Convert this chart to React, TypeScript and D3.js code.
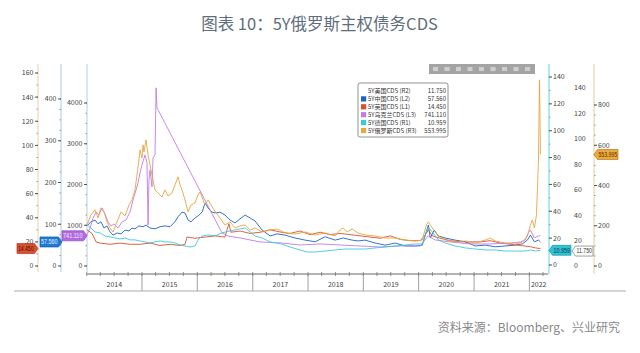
import React from 'react';
import * as d3 from 'd3';

type Pt = [string, number];

// 5Y CDS (bp)
const usData: Pt[] = [
  ['2014-01-03', 25], ['2014-06-10', 18], ['2015-01-10', 20], ['2015-09-10', 22], ['2016-03-10', 28],
  ['2016-09-10', 25], ['2017-06-10', 20], ['2018-03-10', 17], ['2019-01-10', 22], ['2019-09-10', 15],
  ['2020-03-10', 30], ['2020-06-10', 20], ['2021-01-10', 14], ['2021-09-10', 12], ['2022-03-15', 11.75],
];

const chinaData: Pt[] = [
  ['2014-01-03', 96], ['2014-01-29', 106], ['2014-02-25', 110], ['2014-03-17', 101], ['2014-04-05', 106],
  ['2014-04-25', 91], ['2014-05-15', 96], ['2014-06-04', 82], ['2014-06-24', 74], ['2014-07-20', 79],
  ['2014-08-16', 77], ['2014-09-11', 86], ['2014-10-07', 84], ['2014-10-27', 91], ['2014-11-16', 89],
  ['2014-12-12', 96], ['2015-01-08', 94], ['2015-01-28', 98], ['2015-02-23', 91], ['2015-03-28', 89],
  ['2015-04-30', 94], ['2015-06-02', 96], ['2015-07-05', 94], ['2015-08-07', 106], ['2015-08-27', 118],
  ['2015-09-22', 129], ['2015-10-12', 127], ['2015-11-01', 110], ['2015-11-21', 106], ['2015-12-17', 115],
  ['2016-01-06', 120], ['2016-02-02', 129], ['2016-02-21', 151], ['2016-03-12', 139], ['2016-04-08', 129],
  ['2016-05-04', 127], ['2016-05-30', 129], ['2016-07-02', 122], ['2016-08-04', 110], ['2016-09-06', 103],
  ['2016-10-09', 113], ['2016-11-12', 122], ['2016-12-15', 115], ['2017-01-16', 108], ['2017-03-04', 86],
  ['2017-04-26', 72], ['2017-06-11', 77], ['2017-08-03', 74], ['2017-10-08', 67], ['2017-12-13', 62],
  ['2018-02-17', 58], ['2018-04-24', 70], ['2018-06-29', 62], ['2018-08-21', 67], ['2018-10-19', 62],
  ['2018-11-28', 60], ['2019-01-13', 62], ['2019-03-20', 55], ['2019-05-25', 50], ['2019-07-30', 55],
  ['2019-10-05', 48], ['2019-12-10', 48], ['2020-01-25', 50], ['2020-02-21', 82], ['2020-03-05', 98],
  ['2020-03-18', 67], ['2020-04-13', 86], ['2020-05-10', 72], ['2020-06-25', 67], ['2020-08-30', 62],
  ['2020-11-04', 58], ['2021-01-09', 48], ['2021-03-16', 50], ['2021-05-21', 46], ['2021-07-26', 48],
  ['2021-09-30', 50], ['2021-11-16', 53], ['2021-12-19', 62], ['2022-01-08', 74], ['2022-02-03', 58],
  ['2022-03-02', 62], ['2022-03-15', 57.56],
];

const ukData: Pt[] = [
  ['2014-01-03', 30], ['2014-02-05', 27], ['2014-03-04', 20], ['2014-03-30', 19], ['2014-06-04', 18],
  ['2014-08-09', 19], ['2014-10-14', 18], ['2014-12-19', 18], ['2015-02-23', 19], ['2015-04-30', 17],
  ['2015-07-05', 18], ['2015-09-09', 17], ['2015-10-12', 18], ['2015-10-25', 24], ['2015-12-17', 23],
  ['2016-02-21', 24], ['2016-04-27', 25], ['2016-07-02', 24], ['2016-07-15', 30], ['2016-07-28', 35],
  ['2016-08-10', 28], ['2016-10-09', 29], ['2016-12-15', 27], ['2017-02-19', 28], ['2017-04-26', 30],
  ['2017-07-08', 28], ['2017-09-04', 27], ['2017-11-09', 29], ['2018-01-15', 26], ['2018-03-22', 28],
  ['2018-05-27', 26], ['2018-08-01', 27], ['2018-10-06', 26], ['2018-12-11', 25], ['2019-02-15', 24],
  ['2019-04-22', 23], ['2019-06-27', 25], ['2019-09-02', 22], ['2019-11-07', 21], ['2020-01-13', 21],
  ['2020-02-21', 27], ['2020-03-05', 30], ['2020-03-31', 25], ['2020-05-23', 23], ['2020-07-29', 21],
  ['2020-10-04', 20], ['2020-12-09', 20], ['2021-02-14', 20], ['2021-04-18', 21], ['2021-06-24', 19],
  ['2021-08-29', 18], ['2021-11-04', 17], ['2022-01-08', 16], ['2022-02-10', 15], ['2022-03-15', 14.45],
];

const ukraineData: Pt[] = [
  ['2014-01-03', 762], ['2014-01-23', 934], ['2014-02-12', 1179], ['2014-03-04', 1327], ['2014-03-23', 1253],
  ['2014-04-12', 1425], ['2014-05-02', 1278], ['2014-05-22', 1081], ['2014-06-10', 983], ['2014-06-30', 1032],
  ['2014-07-27', 934], ['2014-08-22', 1081], ['2014-09-18', 1130], ['2014-10-14', 1327], ['2014-11-03', 1622],
  ['2014-11-23', 1867], ['2014-12-06', 2039], ['2014-12-19', 2285], ['2015-01-01', 2482], ['2015-01-21', 2727],
  ['2015-02-03', 2531], ['2015-02-10', 1007], ['2015-02-16', 2113], ['2015-02-23', 2359], ['2015-03-08', 1941],
  ['2015-03-15', 2654], ['2015-03-28', 2727], ['2015-04-04', 4373], ['2015-04-10', 3882], ['2016-06-12', 811],
  ['2016-07-22', 737], ['2016-10-09', 688], ['2016-12-15', 639], ['2017-02-19', 590], ['2017-07-08', 565],
  ['2017-11-09', 516], ['2018-03-22', 541], ['2018-08-01', 516], ['2018-12-11', 491], ['2019-04-22', 467],
  ['2019-09-02', 491], ['2020-01-13', 491], ['2020-02-21', 688], ['2020-03-05', 737], ['2020-04-19', 639],
  ['2020-07-29', 590], ['2020-12-09', 541], ['2021-04-18', 541], ['2021-08-29', 565], ['2021-11-04', 590],
  ['2021-12-05', 639], ['2021-12-25', 811], ['2022-01-08', 885], ['2022-02-03', 688], ['2022-03-02', 737],
  ['2022-03-15', 741.11],
];

const germanyData: Pt[] = [
  ['2014-01-03', 29.9], ['2014-01-29', 27.6], ['2014-02-25', 24.6], ['2014-03-30', 23.9], ['2014-05-02', 21.6],
  ['2014-06-04', 20.9], ['2014-07-07', 20.1], ['2014-08-09', 19.4], ['2014-09-11', 20.1], ['2014-10-14', 18.7],
  ['2014-11-16', 18.7], ['2014-12-19', 17.9], ['2015-01-21', 17.2], ['2015-02-23', 16.4], ['2015-03-28', 17.2],
  ['2015-04-30', 17.9], ['2015-06-02', 17.2], ['2015-07-05', 17.2], ['2015-08-07', 16.4], ['2015-09-09', 14.9],
  ['2015-10-12', 14.2], ['2015-11-14', 13.4], ['2015-12-17', 14.2], ['2016-01-06', 18.7], ['2016-02-02', 21.6],
  ['2016-03-12', 22.4], ['2016-04-27', 21.6], ['2016-06-12', 23.9], ['2016-08-04', 25.4], ['2016-10-09', 26.9],
  ['2016-11-12', 27.6], ['2016-12-15', 24.6], ['2017-01-16', 21.6], ['2017-03-04', 20.1], ['2017-04-26', 17.2],
  ['2017-07-08', 15.7], ['2017-09-04', 13.4], ['2017-11-09', 11.2], ['2017-12-26', 9.7], ['2018-02-17', 9.7],
  ['2018-04-24', 10.4], ['2018-06-29', 11.2], ['2018-09-03', 11.9], ['2018-11-08', 11.9], ['2019-01-13', 11.9],
  ['2019-03-20', 12.7], ['2019-05-25', 13.4], ['2019-07-30', 14.2], ['2019-10-05', 14.9], ['2019-12-10', 15.7],
  ['2020-01-25', 15.7], ['2020-02-21', 24.6], ['2020-03-05', 28.4], ['2020-03-31', 24.6], ['2020-05-10', 18.7],
  ['2020-06-25', 16.4], ['2020-08-30', 14.2], ['2020-11-04', 12.7], ['2021-01-09', 11.9], ['2021-03-16', 11.2],
  ['2021-05-21', 11.2], ['2021-07-26', 10.4], ['2021-09-30', 10.4], ['2021-12-05', 10.4], ['2022-01-08', 11.2],
  ['2022-02-10', 10.4], ['2022-03-15', 10.959],
];

const russiaData: Pt[] = [
  ['2014-01-03', 204], ['2014-01-29', 254], ['2014-02-25', 279], ['2014-03-17', 239], ['2014-04-05', 289],
  ['2014-04-25', 269], ['2014-05-15', 219], ['2014-06-04', 189], ['2014-06-24', 169], ['2014-07-20', 219],
  ['2014-08-16', 269], ['2014-09-11', 249], ['2014-10-07', 303], ['2014-10-27', 328], ['2014-11-16', 378],
  ['2014-11-29', 453], ['2014-12-12', 527], ['2014-12-19', 577], ['2015-01-01', 537], ['2015-01-08', 602],
  ['2015-01-14', 567], ['2015-01-28', 627], ['2015-02-10', 552], ['2015-02-23', 502], ['2015-03-08', 453],
  ['2015-03-28', 378], ['2015-04-17', 363], ['2015-05-13', 343], ['2015-06-02', 378], ['2015-06-22', 348],
  ['2015-07-18', 363], ['2015-08-07', 403], ['2015-08-27', 443], ['2015-09-09', 403], ['2015-09-22', 378],
  ['2015-10-12', 328], ['2015-11-01', 269], ['2015-11-21', 303], ['2015-12-17', 313], ['2016-01-06', 353],
  ['2016-01-19', 368], ['2016-02-08', 328], ['2016-02-21', 303], ['2016-03-12', 328], ['2016-04-08', 294],
  ['2016-05-04', 264], ['2016-05-30', 239], ['2016-07-02', 204], ['2016-08-04', 219], ['2016-09-06', 189],
  ['2016-10-09', 199], ['2016-11-12', 204], ['2016-12-15', 179], ['2017-01-16', 189], ['2017-03-04', 169],
  ['2017-04-26', 179], ['2017-06-11', 184], ['2017-08-03', 164], ['2017-10-08', 159], ['2017-12-13', 169],
  ['2018-02-17', 154], ['2018-04-24', 164], ['2018-06-29', 149], ['2018-08-01', 179], ['2018-08-21', 189],
  ['2018-09-16', 169], ['2018-10-19', 184], ['2018-11-28', 164], ['2019-01-13', 154], ['2019-03-20', 149],
  ['2019-05-25', 139], ['2019-07-30', 139], ['2019-10-05', 129], ['2019-12-10', 124], ['2020-01-25', 129],
  ['2020-02-21', 204], ['2020-03-05', 219], ['2020-03-31', 189], ['2020-05-10', 149], ['2020-06-25', 129],
  ['2020-08-30', 119], ['2020-11-04', 124], ['2021-01-09', 114], ['2021-03-16', 129], ['2021-04-18', 139],
  ['2021-05-21', 124], ['2021-07-26', 114], ['2021-09-30', 109], ['2021-11-16', 119], ['2021-12-19', 149],
  ['2022-01-08', 204], ['2022-01-21', 229], ['2022-02-03', 189], ['2022-02-17', 254], ['2022-03-02', 527],
  ['2022-03-09', 925], ['2022-03-15', 553.995],
];

const years = ['2014', '2015', '2016', '2017', '2018', '2019', '2020', '2021', '2022'];

const parse = d3.timeParse('%Y-%m-%d');
const font = '"Noto Sans CJK SC", "Noto Sans", sans-serif';
const tagFont = '"Liberation Sans Narrow", "Liberation Sans", sans-serif';

const x = d3.scaleTime()
  .domain([parse('2014-01-01') as Date, parse('2022-05-04') as Date])
  .range([86.7, 548]);

const yL1 = d3.scaleLinear().domain([0, 160]).range([266, 73]);
const yL2 = d3.scaleLinear().domain([0, 400]).range([266, 99]);
const yL3 = d3.scaleLinear().domain([0, 4000]).range([266, 103]);
const yR1 = d3.scaleLinear().domain([0, 140]).range([265, 77]);
const yR2 = d3.scaleLinear().domain([0, 140]).range([266, 88]);
const yR3 = d3.scaleLinear().domain([0, 800]).range([266, 105]);

const series = [
  { name: '5Y美国CDS (R2)', data: usData, y: yR2, color: '#ffffff', last: '11.750' },
  { name: '5Y中国CDS (L2)', data: chinaData, y: yL2, color: '#1d63c6', last: '57.560' },
  { name: '5Y英国CDS (L1)', data: ukData, y: yL1, color: '#d9512c', last: '14.450' },
  { name: '5Y乌克兰CDS (L3)', data: ukraineData, y: yL3, color: '#c07ee6', last: '741.110' },
  { name: '5Y德国CDS (R1)', data: germanyData, y: yR1, color: '#3cc9da', last: '10.959' },
  { name: '5Y俄罗斯CDS (R3)', data: russiaData, y: yR3, color: '#e9a53e', last: '553.995' },
];

// left-side axis: labels left of the line, ticks pointing left
const LeftAxis = ({ scale, ax, step, minor, color }: any) => {
  const [d0, d1] = scale.domain();
  const major = d3.range(d0, d1 + 1e-9, step);
  const minors = d3.range(d0, d1 + 1e-9, minor);
  return (
    <g>
      <line x1={ax} x2={ax} y1={64} y2={272} stroke={color} strokeWidth={1} />
      {minors.map((v: number) => (
        <line key={'m' + v} x1={ax - 1.5} x2={ax} y1={scale(v)} y2={scale(v)} stroke="#999" />
      ))}
      {major.map((v: number) => (
        <g key={v}>
          <line x1={ax - 3} x2={ax} y1={scale(v)} y2={scale(v)} stroke="#555" />
          <text x={ax - 4.5} y={scale(v)} dy="0.35em" textAnchor="end" fontSize={7} fill="#444" fontFamily={font}>{v}</text>
        </g>
      ))}
    </g>
  );
};

const RightAxis = ({ scale, ax, step, minor, color, noLine }: any) => {
  const [d0, d1] = scale.domain();
  const major = d3.range(d0, d1 + 1e-9, step);
  const minors = d3.range(d0, d1 + 1e-9, minor);
  return (
    <g>
      {!noLine && <line x1={ax} x2={ax} y1={64} y2={274} stroke={color} strokeWidth={1} />}
      {!noLine && minors.map((v: number) => (
        <line key={'m' + v} x1={ax} x2={ax + 1.5} y1={scale(v)} y2={scale(v)} stroke="#999" />
      ))}
      {major.map((v: number) => (
        <g key={v}>
          {!noLine && <line x1={ax} x2={ax + 3} y1={scale(v)} y2={scale(v)} stroke="#555" />}
          <text x={noLine ? ax : ax + 4} y={scale(v)} dy="0.35em" fontSize={7} fill="#444" fontFamily={font}>{v}</text>
        </g>
      ))}
    </g>
  );
};

// value tag with a point toward its axis
const Badge = ({ x0, x1, y, text, fill, stroke, ink, right }: any) => {
  const h = 5;
  const pts = right
    ? [[x0, y], [x0 + 3.5, y - h], [x1, y - h], [x1, y + h], [x0 + 3.5, y + h]]
    : [[x0, y - h], [x1 - 3.5, y - h], [x1, y], [x1 - 3.5, y + h], [x0, y + h]];
  const cx = right ? (x0 + 3.5 + x1) / 2 : (x0 + x1 - 3.5) / 2;
  const w = x1 - x0 - 5.5;
  return (
    <g>
      <polygon points={pts.map(p => p.join(',')).join(' ')} fill={fill} stroke={stroke} strokeWidth={0.7} />
      <text x={cx} y={y} dy="0.35em" textAnchor="middle" fontSize={6.5} fill={ink} fontFamily={tagFont}
        textLength={w} lengthAdjust="spacingAndGlyphs">{text}</text>
    </g>
  );
};

export default function App() {
  const yearStarts = years.map(y => parse(y + '-01-01') as Date);
  const [t0, t1] = x.domain();
  const quarters = d3.timeMonth.every(3)!.range(t0, t1);

  return (
    <svg width={640} height={353} style={{ position: 'absolute', left: 0, top: 0, background: '#fff' }}>
      <rect width={640} height={353} fill="#fff" />
      <text x={319.5} y={30} textAnchor="middle" fontSize={16.5} fill="#5f6e7d" fontFamily={font}>
        图表 10：5Y俄罗斯主权债务CDS
      </text>

      {/* axes */}
      <LeftAxis scale={yL1} ax={38} step={20} minor={10} color="#eccfae" />
      <LeftAxis scale={yL2} ax={61} step={100} minor={25} color="#a8cbeb" />
      <LeftAxis scale={yL3} ax={87} step={1000} minor={250} color="#b9cde3" />
      <RightAxis scale={yR1} ax={549} step={20} minor={10} color="#5fd3e2" />
      <RightAxis scale={yR2} ax={574} step={20} minor={10} noLine />
      <RightAxis scale={yR3} ax={594} step={200} minor={50} color="#e8cc98" />

      {/* time axis */}
      <line x1={86.7} x2={548} y1={274} y2={274} stroke="#666" />
      {quarters.map((q, i) => (
        <line key={i} x1={x(q)} x2={x(q)} y1={272} y2={276} stroke="#777" strokeWidth={0.8} />
      ))}
      {yearStarts.slice(1).map((d, i) => (
        <line key={i} x1={x(d)} x2={x(d)} y1={274} y2={291} stroke="#888" strokeWidth={0.8} />
      ))}
      {yearStarts.map((d, i) => {
        const next = i < years.length - 1 ? x(yearStarts[i + 1]) : 548;
        const start = Math.max(x(d), 86.7);
        return (
          <text key={years[i]} x={(start + next) / 2} y={287} textAnchor="middle" fontSize={7} fill="#444" fontFamily={font}>
            {years[i]}
          </text>
        );
      })}
      <line x1={14} x2={626} y1={291} y2={291} stroke="#aaa" />

      {/* series */}
      {series.map(s => {
        const line = d3.line<Pt>()
          .x(d => x(parse(d[0]) as Date))
          .y(d => s.y(d[1]));
        return <path key={s.name} d={line(s.data) || ''} fill="none" stroke={s.color} strokeWidth={0.9} strokeLinejoin="round" />;
      })}

      {/* toolbar */}
      <rect x={429} y={64} width={106} height={10} fill="#a4a4a4" />
      {d3.range(9).map(i => (
        <rect key={i} x={433 + i * 11.5} y={67} width={5} height={4} fill="#cfcfcf" />
      ))}

      {/* legend */}
      <rect x={358} y={83} width={90} height={54} rx={2} fill="#fff" stroke="#777" strokeWidth={0.8} />
      {series.map((s, i) => {
        const cy = 91 + i * 7.9;
        return (
          <g key={s.name}>
            <rect x={361} y={cy - 2.6} width={5.2} height={5.2} fill={s.color} />
            <text x={368} y={cy} dy="0.35em" fontSize={6} fill="#333" fontFamily={font}>{s.name}</text>
            <text x={446} y={cy} dy="0.35em" textAnchor="end" fontSize={6} fill="#333" fontFamily={font}>{s.last}</text>
          </g>
        );
      })}

      {/* last value tags */}
      <Badge x0={17} x1={38} y={yL1(14.45)} text="14.450" fill="#d9512c" stroke="#a33" ink="#4a1200" />
      <Badge x0={40} x1={62} y={yL2(57.56)} text="57.560" fill="#1d7ad8" stroke="#1558a8" ink="#e8f2ff" />
      <Badge x0={62} x1={87} y={yL3(741.11)} text="741.110" fill="#b26ae0" stroke="#8a4bb8" ink="#f5e9ff" />
      <Badge x0={549} x1={571} y={yR1(10.959)} text="10.959" fill="#2fc3d6" stroke="#1b98a8" ink="#063840" right />
      <Badge x0={572} x1={593} y={yR2(11.75)} text="11.750" fill="#fff" stroke="#777" ink="#333" right />
      <Badge x0={594} x1={618} y={yR3(553.995)} text="553.995" fill="#eea93c" stroke="#b97a1c" ink="#5a3200" right />

      <text x={620} y={332} textAnchor="end" fontSize={12} fill="#8a8a8a" fontFamily={font}>
        资料来源：Bloomberg、兴业研究
      </text>
    </svg>
  );
}
